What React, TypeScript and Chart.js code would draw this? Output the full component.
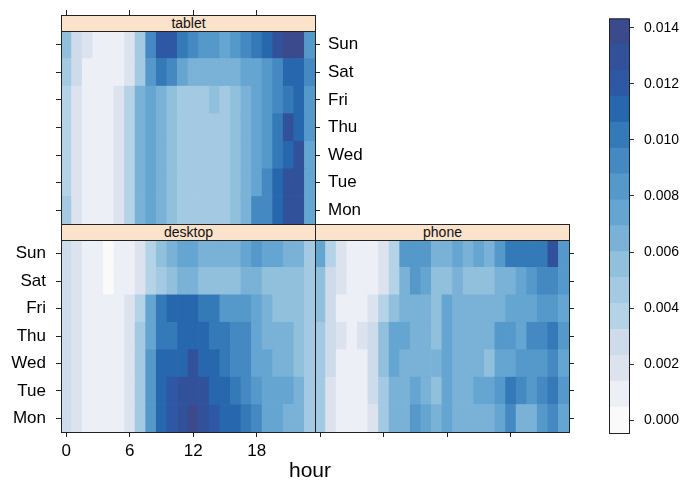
import React, { useEffect, useRef } from "react";
import { Chart, registerables } from "chart.js";

Chart.register(...registerables);

const FONT = "'Liberation Sans', Arial, Helvetica, sans-serif";

// ---------- data ----------
const DAYS = ["Mon", "Tue", "Wed", "Thu", "Fri", "Sat", "Sun"]; // bottom -> top
const HOURS = [0, 1, 2, 3, 4, 5, 6, 7, 8, 9, 10, 11, 12, 13, 14, 15, 16, 17, 18, 19, 20, 21, 22, 23];
const HOUR_TICKS = [0, 6, 12, 18];
const KEY_TICKS = [0, 0.002, 0.004, 0.006, 0.008, 0.01, 0.012, 0.014];
const UNIT = 0.001; // values below are in thousandths

const TABLET_MON = [4.6, 1.9, 0.9, 0.9, 0.9, 1.9, 3.7, 6.5, 7.4, 6.5, 5.6, 4.6, 4.6, 4.6, 4.6, 4.6, 5.6, 6.5, 9.3, 9.3, 11.1, 12.9, 12.9, 7.4];
const TABLET_TUE = [3.7, 1.9, 0.9, 0.9, 0.9, 1.9, 3.7, 6.5, 7.4, 6.5, 5.6, 4.6, 4.6, 4.6, 4.6, 4.6, 5.6, 6.5, 7.4, 9.3, 11.1, 12.9, 12.9, 7.4];
const TABLET_WED = [3.7, 1.9, 0.9, 0.9, 0.9, 1.9, 3.7, 6.5, 7.4, 6.5, 5.6, 4.6, 4.6, 4.6, 4.6, 4.6, 5.6, 6.5, 7.4, 8.3, 10.2, 11.1, 12.9, 7.4];
const TABLET_THU = [3.7, 1.9, 0.9, 0.9, 0.9, 1.9, 3.7, 6.5, 7.4, 6.5, 5.6, 4.6, 4.6, 4.6, 4.6, 4.6, 5.6, 6.5, 7.4, 8.3, 10.2, 12.9, 11.1, 8.3];
const TABLET_FRI = [3.7, 1.9, 0.9, 0.9, 0.9, 1.9, 3.7, 6.5, 7.4, 6.5, 5.6, 4.6, 4.6, 4.6, 5.6, 4.6, 5.6, 6.5, 7.4, 8.3, 9.3, 10.2, 11.1, 8.3];
const TABLET_SAT = [4.6, 2.8, 0.9, 0.9, 0.9, 0.9, 1.9, 4.6, 8.3, 10.2, 9.3, 7.4, 6.5, 6.5, 6.5, 6.5, 6.5, 7.4, 7.4, 8.3, 9.3, 11.1, 11.1, 9.3];
const TABLET_SUN = [5.6, 2.8, 1.9, 0.9, 0.9, 0.9, 1.9, 4.6, 9.3, 12.0, 12.0, 10.2, 9.3, 8.3, 8.3, 7.4, 8.3, 9.3, 10.2, 11.1, 12.9, 13.8, 13.8, 8.3];

const DESKTOP_MON = [2.8, 1.9, 0.9, 0.9, 0.9, 0.9, 1.9, 4.6, 8.3, 11.1, 12.0, 12.9, 13.8, 12.9, 12.0, 11.1, 11.1, 10.2, 9.3, 7.4, 7.4, 6.5, 6.5, 4.6];
const DESKTOP_TUE = [2.8, 1.9, 0.9, 0.9, 0.9, 0.9, 1.9, 4.6, 8.3, 11.1, 12.0, 12.9, 12.9, 12.9, 11.1, 11.1, 10.2, 9.3, 8.3, 7.4, 7.4, 7.4, 6.5, 4.6];
const DESKTOP_WED = [2.8, 1.9, 0.9, 0.9, 0.9, 0.9, 1.9, 4.6, 8.3, 11.1, 11.1, 11.1, 12.9, 11.1, 11.1, 10.2, 9.3, 9.3, 7.4, 7.4, 6.5, 6.5, 5.6, 4.6];
const DESKTOP_THU = [2.8, 1.9, 0.9, 0.9, 0.9, 0.9, 1.9, 4.6, 7.4, 10.2, 10.2, 11.1, 11.1, 11.1, 10.2, 10.2, 9.3, 9.3, 7.4, 6.5, 6.5, 6.5, 5.6, 4.6];
const DESKTOP_FRI = [2.8, 1.9, 0.9, 0.9, 0.9, 0.9, 1.9, 3.7, 7.4, 10.2, 11.1, 11.1, 11.1, 10.2, 10.2, 8.3, 8.3, 8.3, 7.4, 6.5, 5.6, 5.6, 5.6, 4.6];
const DESKTOP_SAT = [2.8, 1.9, 0.9, 0.9, 0.0, 0.9, 0.9, 1.9, 3.7, 4.6, 5.6, 6.5, 6.5, 5.6, 5.6, 5.6, 5.6, 6.5, 6.5, 5.6, 5.6, 5.6, 5.6, 4.6];
const DESKTOP_SUN = [2.8, 1.9, 0.9, 0.9, 0.0, 0.9, 0.9, 1.9, 3.7, 5.6, 6.5, 7.4, 7.4, 6.5, 6.5, 6.5, 6.5, 7.4, 8.3, 7.4, 7.4, 6.5, 6.5, 4.6];

const PHONE_MON = [4.6, 1.9, 0.9, 0.9, 0.9, 1.9, 4.6, 6.5, 6.5, 8.3, 7.4, 6.5, 7.4, 6.5, 6.5, 6.5, 6.5, 7.4, 9.3, 6.5, 6.5, 8.3, 9.3, 7.4];
const PHONE_TUE = [4.6, 1.9, 0.9, 0.9, 0.9, 2.8, 4.6, 6.5, 6.5, 7.4, 6.5, 5.6, 7.4, 6.5, 6.5, 7.4, 7.4, 8.3, 10.2, 9.3, 8.3, 9.3, 10.2, 8.3];
const PHONE_WED = [4.6, 2.8, 0.9, 0.9, 0.9, 2.8, 5.6, 7.4, 6.5, 6.5, 6.5, 6.5, 7.4, 6.5, 6.5, 6.5, 5.6, 7.4, 7.4, 8.3, 8.3, 8.3, 9.3, 7.4];
const PHONE_THU = [4.6, 2.8, 1.9, 0.9, 1.9, 2.8, 5.6, 7.4, 7.4, 6.5, 6.5, 5.6, 7.4, 6.5, 6.5, 6.5, 6.5, 8.3, 8.3, 7.4, 9.3, 9.3, 10.2, 8.3];
const PHONE_FRI = [5.6, 2.8, 0.9, 0.9, 0.9, 1.9, 3.7, 5.6, 6.5, 6.5, 6.5, 5.6, 7.4, 6.5, 6.5, 6.5, 6.5, 6.5, 7.4, 7.4, 7.4, 8.3, 8.3, 7.4];
const PHONE_SAT = [5.6, 2.8, 1.9, 0.9, 0.9, 0.9, 1.9, 3.7, 6.5, 8.3, 7.4, 5.6, 5.6, 6.5, 5.6, 5.6, 5.6, 6.5, 6.5, 7.4, 8.3, 9.3, 9.3, 8.3];
const PHONE_SUN = [7.4, 3.7, 1.9, 0.9, 0.9, 0.9, 1.9, 3.7, 8.3, 8.3, 8.3, 6.5, 6.5, 7.4, 6.5, 7.4, 6.5, 8.3, 10.2, 10.2, 10.2, 10.2, 12.9, 8.3];

const TABLET = [TABLET_MON, TABLET_TUE, TABLET_WED, TABLET_THU, TABLET_FRI, TABLET_SAT, TABLET_SUN];
const DESKTOP = [DESKTOP_MON, DESKTOP_TUE, DESKTOP_WED, DESKTOP_THU, DESKTOP_FRI, DESKTOP_SAT, DESKTOP_SUN];
const PHONE = [PHONE_MON, PHONE_TUE, PHONE_WED, PHONE_THU, PHONE_FRI, PHONE_SAT, PHONE_SUN];

// colour key
const KEY_MIN = -0.00045;
const KEY_MAX = 0.01433;
const KEY_COLORS = [
  "#FAFAFB", "#ECEFF5", "#DCE3EE", "#CDDBEA", "#B5D3E6", "#A3CAE2", "#90C0DC", "#7AB1D6",
  "#65A5D1", "#5598CA", "#4589C3", "#3479B8", "#2767AE", "#2E58A4", "#31519B", "#3A4A8D",
];
const KEY_STEP = (KEY_MAX - KEY_MIN) / KEY_COLORS.length;

function colorFor(v: number): string {
  const i = Math.floor((v - KEY_MIN) / KEY_STEP);
  return KEY_COLORS[Math.max(0, Math.min(KEY_COLORS.length - 1, i))];
}

// ---------- layout ----------
const CW = 689;
const CH = 483;
const X0 = 61;
const X1 = 315;
const X2 = 569;
const STRIP_TOP = 15;
const TAB_TOP = 31;
const TAB_BOT = 224;
const BOT_TOP = 240;
const BOT_BOT = 432;
const KEY_X0 = 609;
const KEY_X1 = 629;
const KEY_Y0 = 14;
const KEY_Y1 = 433;

const AXIS_COLOR = "#222";
const TICK_FONT = 17;

const framePlugin = {
  id: "frame",
  afterDatasetsDraw(chart: any) {
    const { ctx, chartArea: a } = chart;
    ctx.save();
    ctx.strokeStyle = AXIS_COLOR;
    ctx.lineWidth = 1;
    ctx.strokeRect(a.left + 0.5, a.top + 0.5, a.right - a.left, a.bottom - a.top);
    ctx.restore();
  },
};

function axis(
  position: string,
  min: number,
  max: number,
  values: number[],
  o: { box: number; tick?: number; labels?: (v: number) => string; padding?: number; size?: number }
) {
  const horizontal = position === "top" || position === "bottom";
  return {
    type: "linear",
    position,
    min,
    max,
    offset: false,
    afterFit: (s: any) => {
      if (horizontal) s.height = o.box;
      else s.width = o.box;
    },
    afterBuildTicks: (s: any) => {
      s.ticks = values.map((v) => ({ value: v }));
    },
    grid: {
      offset: false,
      drawOnChartArea: false,
      drawTicks: true,
      tickLength: o.tick ?? 5,
      color: AXIS_COLOR,
      lineWidth: 1,
    },
    border: { display: false },
    ticks: {
      display: !!o.labels,
      padding: o.padding ?? 4,
      autoSkip: false,
      maxRotation: 0,
      minRotation: 0,
      color: "#000",
      font: { family: FONT, size: o.size ?? TICK_FONT },
      callback: (v: number) => (o.labels ? o.labels(v) : ""),
    },
  };
}

function heatDatasets(rows: number[][]) {
  return rows.map((vals, d) => ({
    label: DAYS[d],
    data: HOURS.map((h) => ({ x: h, y: [d + 0.5, d + 1.5] })),
    backgroundColor: vals.map((v) => colorFor(v * UNIT)),
    borderWidth: 0,
    grouped: false,
    barPercentage: 1,
    categoryPercentage: 1,
  }));
}

function baseOptions(padding: any, scales: any) {
  return {
    responsive: false,
    maintainAspectRatio: false,
    animation: false,
    events: [],
    layout: { padding },
    plugins: { legend: { display: false }, tooltip: { enabled: false }, title: { display: false } },
    scales,
  };
}

const dayLabel = (v: number) => DAYS[Math.round(v) - 1] ?? "";
const hourLabel = (v: number) => String(v);
const DAY_TICKS = [1, 2, 3, 4, 5, 6, 7];

function tabletConfig(): any {
  const top = TAB_TOP - 10;
  const left = 8;
  const right = 70;
  return {
    type: "bar",
    data: { datasets: heatDatasets(TABLET) },
    options: baseOptions(
      { left: X0 - left, right: CW - X1 - right, top: TAB_TOP - top, bottom: CH - TAB_BOT },
      {
        x: axis("top", -0.5, 23.5, HOUR_TICKS, { box: top, tick: top }),
        y: axis("right", 0.5, 7.5, DAY_TICKS, { box: right, tick: 5, labels: dayLabel, padding: 8 }),
        yl: axis("left", 0.5, 7.5, DAY_TICKS, { box: left, tick: 5 }),
      }
    ),
    plugins: [framePlugin],
  };
}

function desktopConfig(): any {
  const left = 60;
  const bottom = 40;
  return {
    type: "bar",
    data: { datasets: heatDatasets(DESKTOP) },
    options: baseOptions(
      { left: X0 - left, right: CW - X1, top: BOT_TOP, bottom: CH - BOT_BOT - bottom },
      {
        x: axis("bottom", -0.5, 23.5, HOUR_TICKS, { box: bottom, tick: 5, labels: hourLabel, padding: 4 }),
        y: axis("left", 0.5, 7.5, DAY_TICKS, { box: left, tick: 5, labels: dayLabel, padding: 10 }),
      }
    ),
    plugins: [framePlugin],
  };
}

function phoneConfig(): any {
  const right = 10;
  const bottom = 10;
  return {
    type: "bar",
    data: { datasets: heatDatasets(PHONE) },
    options: baseOptions(
      { left: X1, right: CW - X2 - right, top: BOT_TOP, bottom: CH - BOT_BOT - bottom },
      {
        x: axis("bottom", -0.5, 23.5, HOUR_TICKS, { box: bottom, tick: 5 }),
        y: axis("right", 0.5, 7.5, DAY_TICKS, { box: right, tick: 5 }),
      }
    ),
    plugins: [framePlugin],
  };
}

function keyConfig(): any {
  const right = 56;
  return {
    type: "bar",
    data: {
      labels: ["key"],
      datasets: KEY_COLORS.map((c, i) => ({
        label: "band" + i,
        data: [[KEY_MIN + i * KEY_STEP, KEY_MIN + (i + 1) * KEY_STEP]],
        backgroundColor: c,
        borderWidth: 0,
        grouped: false,
        barPercentage: 1,
        categoryPercentage: 1,
      })),
    },
    options: baseOptions(
      { left: KEY_X0, right: CW - KEY_X1 - right, top: KEY_Y0, bottom: CH - KEY_Y1 },
      {
        x: { type: "category", display: false },
        y: axis("right", KEY_MIN, KEY_MAX, KEY_TICKS, {
          box: right,
          tick: 5,
          labels: (v: number) => v.toFixed(3),
          padding: 10,
          size: 14,
        }),
      }
    ),
    plugins: [framePlugin],
  };
}

const stripStyle = (left: number, top: number): React.CSSProperties => ({
  position: "absolute",
  left,
  top,
  width: X1 - X0 + 1,
  height: TAB_TOP - STRIP_TOP + 1,
  boxSizing: "border-box",
  border: `1px solid ${AXIS_COLOR}`,
  background: "#FBE2CA",
  fontFamily: FONT,
  fontSize: 14,
  lineHeight: "14px",
  textAlign: "center",
  color: "#111",
});

export default function App() {
  const r0 = useRef<HTMLCanvasElement>(null);
  const r1 = useRef<HTMLCanvasElement>(null);
  const r2 = useRef<HTMLCanvasElement>(null);
  const r3 = useRef<HTMLCanvasElement>(null);

  useEffect(() => {
    const charts = [
      new Chart(r0.current as HTMLCanvasElement, tabletConfig()),
      new Chart(r1.current as HTMLCanvasElement, desktopConfig()),
      new Chart(r2.current as HTMLCanvasElement, phoneConfig()),
      new Chart(r3.current as HTMLCanvasElement, keyConfig()),
    ];
    return () => charts.forEach((c) => c.destroy());
  }, []);

  const canvasStyle: React.CSSProperties = { position: "absolute", left: 0, top: 0 };

  return (
    <div
      style={{
        position: "absolute",
        left: 0,
        top: 0,
        width: CW,
        height: CH,
        background: "#fff",
        overflow: "hidden",
      }}
    >
      <canvas ref={r0} width={CW} height={CH} style={canvasStyle} />
      <canvas ref={r1} width={CW} height={CH} style={canvasStyle} />
      <canvas ref={r2} width={CW} height={CH} style={canvasStyle} />
      <canvas ref={r3} width={CW} height={CH} style={canvasStyle} />
      <div style={stripStyle(X0, STRIP_TOP)}>tablet</div>
      <div style={stripStyle(X0, TAB_BOT)}>desktop</div>
      <div style={stripStyle(X1, TAB_BOT)}>phone</div>
      <div
        style={{
          position: "absolute",
          left: X1 - 105,
          width: 200,
          top: 458,
          lineHeight: "24px",
          textAlign: "center",
          fontFamily: FONT,
          fontSize: 21,
          color: "#000",
        }}
      >
        hour
      </div>
    </div>
  );
}
